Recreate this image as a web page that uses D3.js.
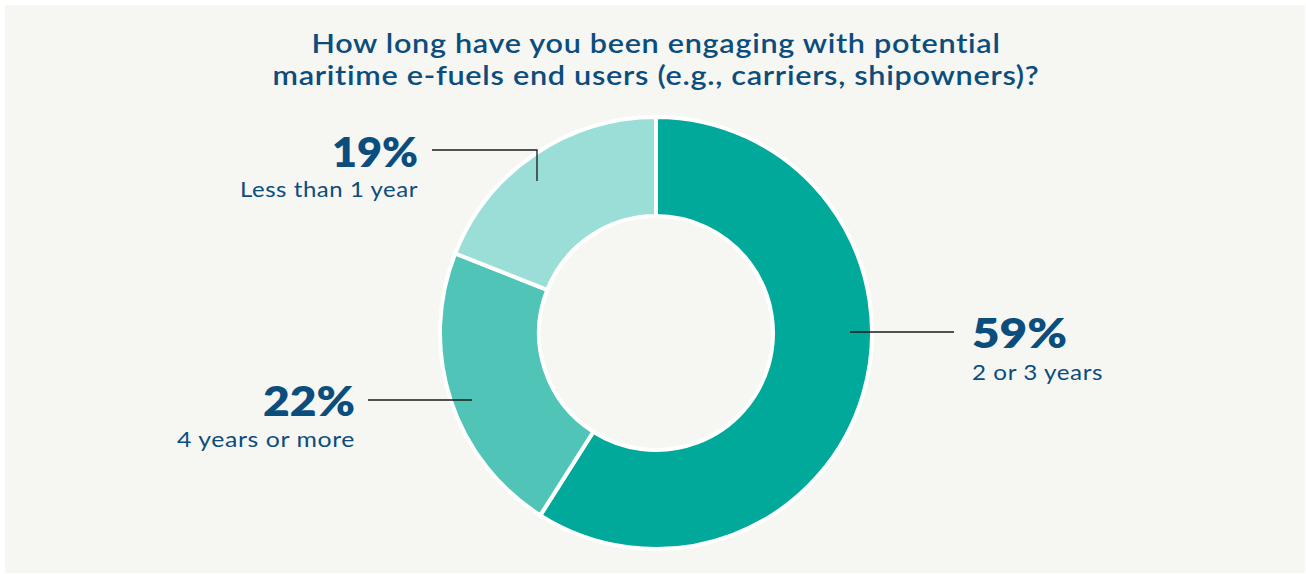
<!DOCTYPE html>
<html>
<head>
<meta charset="utf-8">
<script src="https://cdn.jsdelivr.net/npm/d3@7"></script>
<style>
  html, body { margin: 0; padding: 0; background: #ffffff; }
  svg { display: block; }
  text { font-family: Lato, "Open Sans", sans-serif; }
</style>
</head>
<body>
<svg id="chart" width="1306" height="574"></svg>
<script>
// Survey responses: how long respondents have engaged with end users
const categories = ["2 or 3 years", "4 years or more", "Less than 1 year"];
const shares = [59, 22, 19];
const sliceColors = ["#00a99a", "#4fc4b7", "#9bded7"];
const titleLines = [
  "How long have you been engaging with potential",
  "maritime e-fuels end users (e.g., carriers, shipowners)?"
];

const W = 1306, H = 574;
const svg = d3.select("#chart");
const ink = "#0b4d7d";

// Widen a text so it spans the given width (glyphs and gaps together)
function spanTo(sel, width) {
  sel.attr("textLength", width).attr("lengthAdjust", "spacingAndGlyphs");
}

// Panel
svg.append("rect")
  .attr("x", 5).attr("y", 5)
  .attr("width", W - 6).attr("height", H - 6)
  .attr("fill", "#f6f6f2");

// Title, one text per line
const titleWidths = [689, 767];
titleLines.forEach((line, i) => {
  svg.append("text")
    .attr("x", 656).attr("y", 53 + i * 32)
    .attr("text-anchor", "middle")
    .attr("fill", ink)
    .attr("font-size", 26.5)
    .attr("font-weight", 600)
    .attr("letter-spacing", 0.6)
    .text(line)
    .call(spanTo, titleWidths[i]);
});

// Donut
const cx = 656, cy = 333, rOuter = 216, rInner = 117;
const data = categories.map((c, i) => ({ category: c, value: shares[i], color: sliceColors[i] }));
const pie = d3.pie().value(d => d.value).sort(null);
const arc = d3.arc().innerRadius(rInner).outerRadius(rOuter);
const arcs = pie(data);

const g = svg.append("g").attr("transform", `translate(${cx},${cy})`);
g.selectAll("path")
  .data(arcs)
  .join("path")
  .attr("d", arc)
  .attr("fill", d => d.data.color)
  .attr("stroke", "#ffffff")
  .attr("stroke-width", 4)
  .attr("stroke-linejoin", "miter");

// Leader lines and labels, placed per slice
const labelSpecs = [
  { slice: 0, side: "right", lineY: 332, x0: 850, x1: 954, tx: 972, pctY: 348, catY: 380, pctW: 95, catW: 131 },
  { slice: 1, side: "left",  lineY: 400, x0: 472, x1: 368, tx: 355, pctY: 416, catY: 447, pctW: 92, catW: 178 },
  { slice: 2, side: "left",  lineY: 150, x0: 537, x1: 432, tx: 418, pctY: 167, catY: 197, pctW: 86, catW: 178, drop: 181 }
];

labelSpecs.forEach(s => {
  const d = arcs[s.slice].data;
  const path = d3.path();
  if (s.drop) {
    path.moveTo(s.x0, s.drop);
    path.lineTo(s.x0, s.lineY);
  } else {
    path.moveTo(s.x0, s.lineY);
  }
  path.lineTo(s.x1, s.lineY);
  svg.append("path")
    .attr("d", path.toString())
    .attr("fill", "none")
    .attr("stroke", "#1a1a1a")
    .attr("stroke-width", 1.3);

  const anchor = s.side === "right" ? "start" : "end";
  svg.append("text")
    .attr("x", s.tx).attr("y", s.pctY)
    .attr("text-anchor", anchor)
    .attr("fill", ink)
    .attr("font-size", 41)
    .attr("font-weight", 800)
    .text(d.value + "%")
    .call(spanTo, s.pctW);
  svg.append("text")
    .attr("x", s.tx).attr("y", s.catY)
    .attr("text-anchor", anchor)
    .attr("fill", ink)
    .attr("font-size", 21)
    .attr("font-weight", 400)
    .attr("letter-spacing", 0.5)
    .text(d.category)
    .call(spanTo, s.catW);
});
</script>
</body>
</html>
